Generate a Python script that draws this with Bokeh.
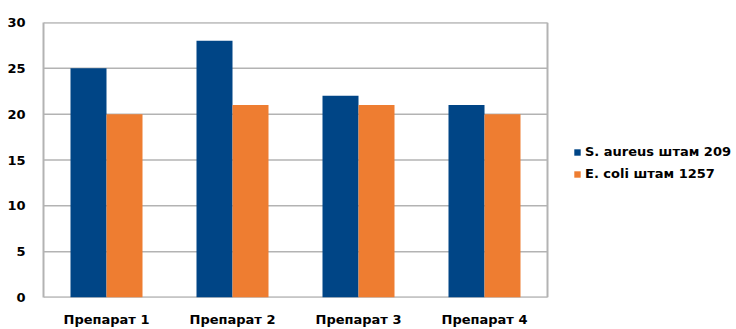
from bokeh.plotting import figure
from bokeh.models import (ColumnDataSource, Legend, LegendItem, FixedTicker, Range1d)
from bokeh.embed import file_html
from bokeh.resources import INLINE

categories = ["Препарат 1", "Препарат 2", "Препарат 3", "Препарат 4"]
s_aureus = [25, 28, 22, 21]
e_coli = [20, 21, 21, 20]
series_names = ["S. aureus штам 209", "E. coli штам 1257"]
y_ticks = [0, 5, 10, 15, 20, 25, 30]

n = len(categories)
centers = [i + 0.5 for i in range(n)]
bw = 36 / 126
src = ColumnDataSource(dict(xa=[c - bw / 2 for c in centers], xb=[c + bw / 2 for c in centers],
                            a=s_aureus, b=e_coli))

# plot area covers the chart (n units) plus room on the right for the legend
p = figure(x_range=Range1d(0, n * 693 / 504), y_range=Range1d(0, 30), width=736, height=329,
           output_backend="svg", toolbar_location=None,
           min_border_left=43, min_border_right=0, min_border_top=22, min_border_bottom=23)

grid_col = "#b3b3b3"
p.segment(x0=[0] * len(y_ticks), x1=[n] * len(y_ticks), y0=y_ticks, y1=y_ticks,
          line_color=grid_col, line_width=1.5)
p.segment(x0=[n], x1=[n], y0=[y_ticks[0]], y1=[y_ticks[-1]], line_color=grid_col, line_width=2)
p.segment(x0=[0, 0], x1=[n, n], y0=[y_ticks[0], y_ticks[-1]], y1=[y_ticks[0], y_ticks[-1]],
          line_color=grid_col, line_width=2)

r1 = p.vbar(x="xa", top="a", width=bw, source=src, fill_color="#004586", line_color=None)
r2 = p.vbar(x="xb", top="b", width=bw, source=src, fill_color="#ee7d31", line_color=None)

p.yaxis.ticker = FixedTicker(ticks=y_ticks)
p.xaxis.ticker = FixedTicker(ticks=centers)
p.xaxis.major_label_overrides = {c: lab for c, lab in zip(centers, categories)}
for ax in (p.xaxis, p.yaxis):
    ax.major_label_text_font = "DejaVu Sans"
    ax.major_label_text_font_style = "bold"
    ax.major_label_text_font_size = "13px"
    ax.major_label_text_color = "#000000"
    ax.major_tick_line_color = None
    ax.minor_tick_line_color = None
p.yaxis.axis_line_color = grid_col
p.yaxis.axis_line_width = 2
p.xaxis.axis_line_color = None
p.yaxis.major_label_standoff = 12
p.xaxis.major_label_standoff = 8

p.grid.grid_line_color = None
p.outline_line_color = None
p.background_fill_color = "white"
p.border_fill_color = "white"

legend = Legend(items=[LegendItem(label=series_names[0], renderers=[r1]),
                       LegendItem(label=series_names[1], renderers=[r2])],
                location=(530, 116), orientation="vertical",
                glyph_width=8, glyph_height=8, label_height=13, spacing=7, padding=0, margin=0,
                label_text_font="DejaVu Sans", label_text_font_style="bold",
                label_text_font_size="13px", label_text_color="#000000",
                label_standoff=4, border_line_color=None, background_fill_alpha=0)
p.add_layout(legend, "center")

open("out.html", "w").write(file_html(p, INLINE))
